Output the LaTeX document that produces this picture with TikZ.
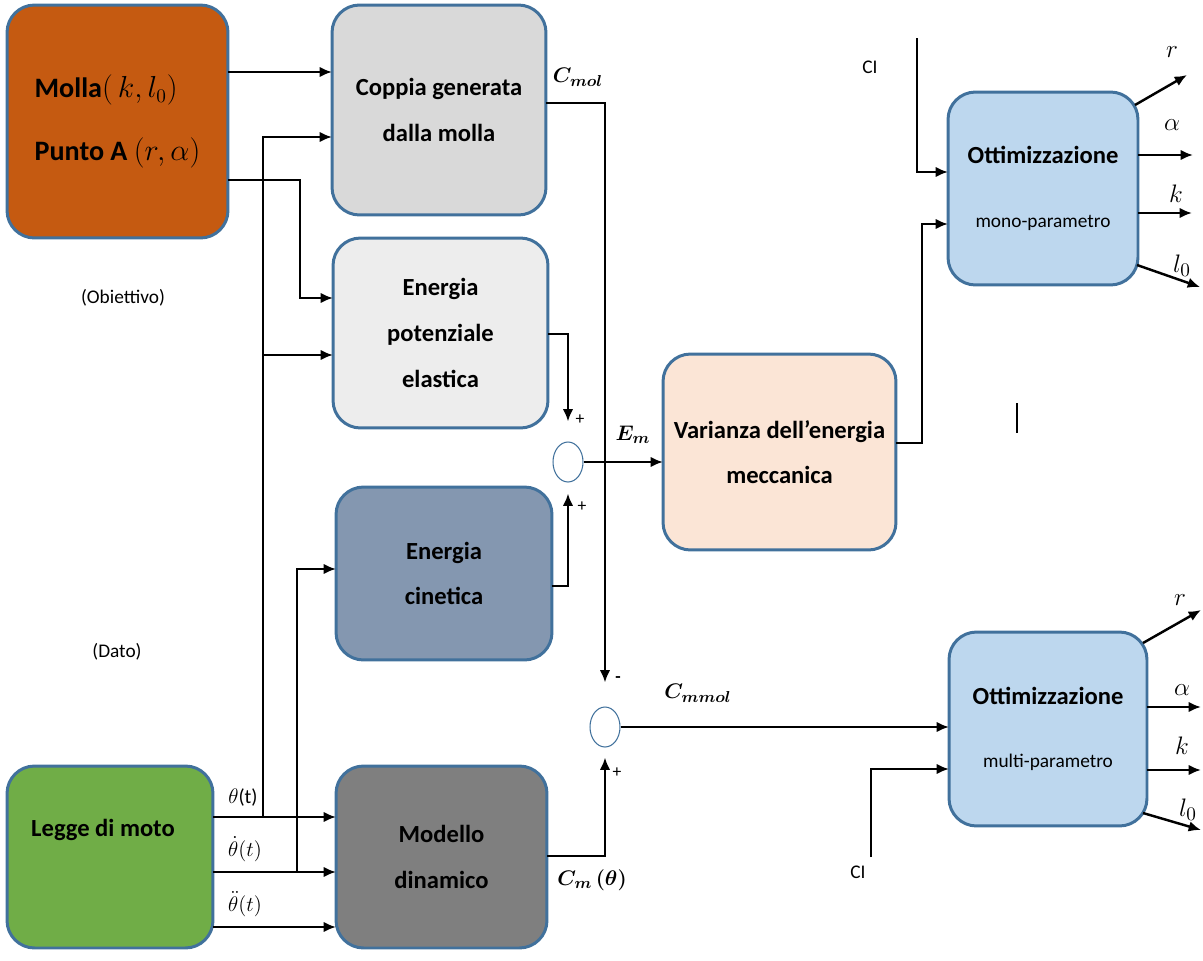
\documentclass[tikz,border=0pt]{standalone}
\usepackage{amsmath,bm}
\usepackage{fontspec}
\setmainfont{Carlito}
\usepackage{tikz}
\usetikzlibrary{arrows.meta,shapes.geometric}

\definecolor{bordo}{HTML}{41719C}
\definecolor{cmolla}{HTML}{C55A11}
\definecolor{ccoppia}{HTML}{D9D9D9}
\definecolor{cepot}{HTML}{EDEDED}
\definecolor{cecin}{HTML}{8497B0}
\definecolor{cmodello}{HTML}{7F7F7F}
\definecolor{clegge}{HTML}{70AD47}
\definecolor{cvar}{HTML}{FBE5D6}
\definecolor{cott}{HTML}{BDD7EE}

\begin{document}
\begin{tikzpicture}[x=0.02cm,y=-0.02cm,
    blk/.style={draw=bordo,line width=1.7pt,rounded corners=0.55cm,align=center,
      inner sep=0pt,outer sep=0pt,font=\bfseries\fontsize{14}{26}\selectfont},
    sumn/.style={draw=bordo,ellipse,minimum width=0.6cm,minimum height=0.8cm,
      inner sep=0pt,line width=0.6pt},
    arr/.style={-{Latex[length=7pt,width=6pt]},line width=1.4pt},
    lbl/.style={font=\fontsize{11}{13}\selectfont,inner sep=1pt},
    thl/.style={font=\fontsize{11.5}{13}\selectfont,inner sep=0pt},
    sgn/.style={font=\fontsize{10}{12}\selectfont,inner sep=0pt},
    cl/.style={font=\fontsize{13}{15}\selectfont,inner sep=1pt},
    outl/.style={font=\fontsize{15}{17}\selectfont,inner sep=0pt}]
    \useasboundingbox (0,0) rectangle (1203,960);

    % blocks
    \node[blk,fill=cmolla,minimum width=4.42cm,minimum height=4.66cm,align=left,
      font=\bfseries\fontsize{16}{30}\selectfont] (molla) at (117.5,121.5)
      {Molla$(\,k,l_0)$\\[6pt]Punto A $(r,\alpha)$};
    \node[blk,fill=ccoppia,minimum width=4.28cm,minimum height=4.2cm] (coppia) at (439,110)
      {Coppia generata\\dalla molla};
    \node[blk,fill=cepot,minimum width=4.3cm,minimum height=3.8cm] (epot) at (440.5,333)
      {Energia\\potenziale\\elastica};
    \node[blk,fill=cecin,minimum width=4.32cm,minimum height=3.46cm] (ecin) at (444,573.5)
      {Energia\\cinetica};
    \node[blk,fill=cmodello,minimum width=4.22cm,minimum height=3.64cm] (modello) at (441.5,857)
      {Modello\\dinamico};
    \node[blk,fill=clegge,minimum width=4.12cm,minimum height=3.64cm] (legge) at (110,857) {};
    \node[font=\bfseries\fontsize{14}{26}\selectfont] (leggetxt) at (103,830) {Legge di moto};
    \node[blk,fill=cvar,minimum width=4.66cm,minimum height=3.92cm] (varianza) at (779.5,452)
      {Varianza dell'energia\\meccanica};
    \node[blk,fill=cott,minimum width=3.8cm,minimum height=3.86cm] (ottmono) at (1043,188.5)
      {Ottimizzazione\\[10pt]{\mdseries\fontsize{11}{13}\selectfont mono-parametro}};
    \node[blk,fill=cott,minimum width=3.96cm,minimum height=3.88cm] (ottmulti) at (1048,729)
      {Ottimizzazione\\[10pt]{\mdseries\fontsize{11}{13}\selectfont multi-parametro}};

    % summing points
    \node[sumn] (sum1) at (568,462) {};
    \node[sumn] (sum2) at (605,727) {};

    % side notes
    \node[lbl] (obiettivo) at (123,298) {(Obiettivo)};
    \node[lbl] (dato) at (117,652) {(Dato)};
    \node[lbl] (cimono) at (870,67) {CI};
    \node[lbl] (cimulti) at (858,872) {CI};
    \coordinate (cimonoin) at (917,38);
    \coordinate (cimultiin) at (871,857);

    % inputs from the spring
    \draw[arr] (molla.east |- 0,72) -- (coppia.west |- 0,72);
    \draw[arr] (molla.east |- 0,180) -| (300,298) -- (epot.west |- 0,298);

    % law of motion
    \draw[arr] (legge.east |- 0,817) -- (modello.west |- 0,817);
    \draw[arr] (legge.east |- 0,872) -- (modello.west |- 0,872);
    \draw[arr] (legge.east |- 0,927) -- (modello.west |- 0,927);
    \node[thl] (th) at (243,797) {$\theta$(t)};
    \node[thl] (thd) at (245,849) {$\dot\theta(t)$};
    \node[thl] (thdd) at (245,904) {$\ddot\theta(t)$};
    \draw[arr] (263,817) |- (coppia.west |- 0,137);
    \draw[arr] (263,355) -- (epot.west |- 0,355);
    \draw[arr] (297,872) |- (ecin.west |- 0,569);

    % energies
    \draw[arr,shorten >=0.4cm] (epot.east |- 0,334) -| (sum1.north);
    \draw[arr,shorten >=0.22cm] (ecin.east |- 0,586) -| (sum1.south);
    \node[sgn] (p1) at (580,420) {+};
    \node[sgn] (p2) at (582,507) {+};
    \draw[arr] (sum1.east) -- (varianza.west |- sum1.east);
    \node[cl] (lblem) at (633,435) {$\bm{E_m}$};

    % torques
    \draw[arr,shorten >=0.48cm] (coppia.east |- 0,103) -| (sum2.north);
    \node[cl] (lblcmol) at (578,77) {$\bm{C_{mol}}$};
    \draw[arr,shorten >=0.2cm] (modello.east |- 0,856) -| (sum2.south);
    \node[cl] (lblcm) at (592,880) {$\bm{C_m\,(\theta)}$};
    \node[sgn] (m1) at (618,680) {\textbf{-}};
    \node[sgn] (p3) at (617,773) {+};
    \draw[arr] (sum2.east) -- (ottmulti.west |- sum2.east);
    \node[cl] (lblcmmol) at (698,693) {$\bm{C_{mmol}}$};

    % optimisation inputs
    \draw[arr] (varianza.east |- 0,443) -| (922,224) -- (ottmono.west |- 0,224);
    \draw[arr] (cimonoin) |- (ottmono.west |- 0,172);
    \draw[arr] (cimultiin) |- (ottmulti.west |- 0,769);
    \draw[line width=0.6pt] (1017,403) -- (1017,433);

    % outputs mono
    \draw[arr] (1135,105) -- (1187,75);
    \draw[arr] (ottmono.east |- 0,155) -- (1193,155);
    \draw[arr] (ottmono.east |- 0,213) -- (1192,213);
    \draw[arr] (1137,265) -- (1200,287);
    \node[outl] (r1) at (1172,52) {$r$};
    \node[outl] (a1) at (1172,125) {$\alpha$};
    \node[outl] (k1) at (1176,194) {$k$};
    \node[outl] (l1) at (1182,266) {$l_0$};
    % outputs multi
    \draw[arr] (1143,643) -- (1201,610);
    \draw[arr] (ottmulti.east |- 0,707) -- (1201,707);
    \draw[arr] (ottmulti.east |- 0,770) -- (1201,770);
    \draw[arr] (1143,813) -- (1201,830);
    \node[outl] (r2) at (1180,600) {$r$};
    \node[outl] (a2) at (1182,690) {$\alpha$};
    \node[outl] (k2) at (1182,746) {$k$};
    \node[outl] (l2) at (1188,810) {$l_0$};
\end{tikzpicture}
\end{document}
